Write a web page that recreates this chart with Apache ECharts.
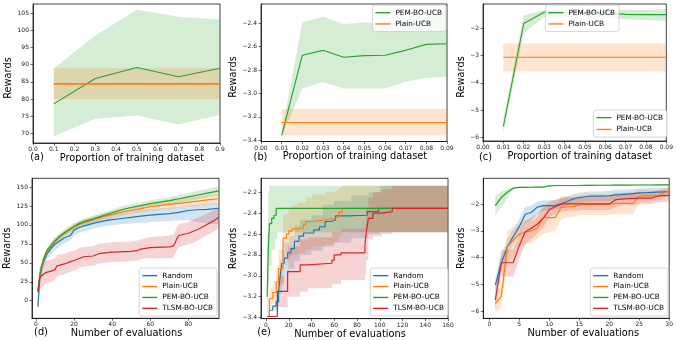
<!DOCTYPE html>
<html><head><meta charset="utf-8">
<script src="https://cdn.jsdelivr.net/npm/echarts@6/dist/echarts.min.js"></script>
<style>html,body{margin:0;padding:0;background:#fff}#c{width:676px;height:340px}</style>
</head><body><div id="c"></div>
<script>
// ---------------- DATA ----------------
// Panel (a)
const aX = [0.1, 0.3, 0.5, 0.7, 0.9];
const aPemMean = [78.6, 86.0, 89.2, 86.5, 89.0];
const aPemLow = [69.2, 74.3, 75.2, 72.6, 75.4];
const aPemHigh = [89.0, 98.5, 106.0, 104.0, 103.2];
const aPlainMean = [84.4, 84.4, 84.4, 84.4, 84.4];
const aPlainLow = [80.0, 80.0, 80.0, 80.0, 80.0];
const aPlainHigh = [89.0, 89.0, 89.0, 89.0, 89.0];
const aXTicks = [0, 0.1, 0.2, 0.3, 0.4, 0.5, 0.6, 0.7, 0.8, 0.9];
const aYTicks = [70, 75, 80, 85, 90, 95, 100, 105];

// Panel (b)
const bX = [0.01, 0.02, 0.03, 0.04, 0.05, 0.06, 0.07, 0.08, 0.09];
const bPemMean = [-3.358, -2.673, -2.631, -2.690, -2.676, -2.673, -2.631, -2.580, -2.575];
const bPemLow = [-3.37, -2.958, -2.901, -2.958, -2.958, -2.958, -2.900, -2.865, -2.856];
const bPemHigh = [-3.33, -2.392, -2.344, -2.406, -2.394, -2.394, -2.380, -2.330, -2.287];
const bPlainMean = [-3.248, -3.248, -3.248, -3.248, -3.248, -3.248, -3.248, -3.248, -3.248];
const bPlainLow = [-3.358, -3.358, -3.358, -3.358, -3.358, -3.358, -3.358, -3.358, -3.358];
const bPlainHigh = [-3.132, -3.132, -3.132, -3.132, -3.132, -3.132, -3.132, -3.132, -3.132];
const bXTicks = [0, 0.01, 0.02, 0.03, 0.04, 0.05, 0.06, 0.07, 0.08, 0.09];
const bYTicks = [-3.4, -3.2, -3.0, -2.8, -2.6, -2.4];

// Panel (c)
const cX = [0.01, 0.02, 0.03, 0.04, 0.05, 0.06, 0.07, 0.08, 0.09];
const cPemMean = [-5.6, -1.83, -1.42, -1.42, -1.42, -1.44, -1.50, -1.51, -1.51];
const cPemLow = [-5.85, -2.19, -1.59, -1.58, -1.58, -1.60, -1.68, -1.71, -1.73];
const cPemHigh = [-5.3, -1.53, -1.34, -1.34, -1.34, -1.36, -1.34, -1.33, -1.32];
const cPlainMean = [-3.07, -3.07, -3.07, -3.07, -3.07, -3.07, -3.07, -3.07, -3.07];
const cPlainLow = [-3.59, -3.59, -3.59, -3.59, -3.59, -3.59, -3.59, -3.59, -3.59];
const cPlainHigh = [-2.56, -2.56, -2.56, -2.56, -2.56, -2.56, -2.56, -2.56, -2.56];
const cXTicks = [0, 0.01, 0.02, 0.03, 0.04, 0.05, 0.06, 0.07, 0.08, 0.09];
const cYTicks = [-6, -5, -4, -3, -2];

// Panel (d)
const dX = [1, 2, 3, 4, 5, 6, 8, 10, 12, 15, 18, 20, 22, 25, 30, 35, 40, 45, 50, 55, 60, 65, 70, 75, 80, 85, 90, 96];
const dRandMean = [-8, 29.5, 42.7, 51.5, 57, 62.5, 69, 74.5, 78, 83, 86, 93, 96, 98.5, 102, 105, 107, 108.5, 110, 111.5, 113, 114, 115, 116.5, 119, 120, 120.5, 122];
const dRandLow = [-14, 20, 34, 44, 50, 55, 61, 67, 71, 76, 79, 86, 89, 91, 95, 98, 100, 101, 102, 103, 104, 104.5, 105, 106, 106, 104, 102, 101];
const dRandHigh = [-2, 38, 50, 58, 63, 69, 76, 82, 85, 90, 93, 100, 103, 106, 109, 112, 114, 116, 118, 120, 121, 122, 123, 124, 126, 127, 128, 129];
const dPlainMean = [12, 33, 45, 53, 60, 65, 72, 78, 83, 89, 94, 98, 100, 103, 107, 111, 114, 117, 119, 121.5, 124, 125.5, 127, 128.5, 130, 131.5, 133, 134.5];
const dPlainLow = [6, 28, 41, 49, 56, 61, 68, 74, 79, 85, 90, 94, 96, 99, 103, 106, 109, 112, 114, 116, 118, 119.5, 121, 122.5, 124, 125, 126.5, 128];
const dPlainHigh = [18, 38, 49, 57, 64, 69, 76, 82, 87, 93, 98, 102, 104, 107, 111, 115, 118, 121, 124, 126.5, 129, 131, 133, 134.5, 136, 138, 139.5, 141];
const dPemMean = [12, 34, 47, 55, 62, 67, 73, 79, 84, 90, 95, 98, 101, 104, 108, 112, 116, 120, 123, 125.5, 128, 130, 132, 134.5, 137, 139.5, 142, 145];
const dPemLow = [6, 29, 43, 51, 58, 63, 69, 75, 80, 86, 91, 94, 97, 100, 104, 108, 112, 115.5, 118.5, 121, 123.5, 125.5, 127.5, 129.5, 132, 134, 136.5, 139];
const dPemHigh = [18, 39, 51, 59, 66, 71, 77, 83, 88, 94, 99, 102, 105, 108, 112, 116, 120, 124.5, 127.5, 130, 132.5, 134.5, 136.5, 139.5, 142, 145, 147.5, 151];
const dTlX = [1, 2, 3, 4, 5, 6, 8, 10, 11, 12, 15, 18, 20, 22, 23, 25, 30, 33, 40, 50, 53, 55, 60, 70, 72, 73, 74, 75, 80, 85, 90, 93, 96];
const dTlMean = [12, 30, 33, 34, 37, 38, 39, 41, 46, 47, 48.5, 51.5, 53, 55, 57, 58, 59, 62, 64, 65, 66, 68, 70, 71, 72, 76, 82, 86, 89, 94, 101, 105, 110];
const dTlLow = [0, 15, 18, 20, 22, 24, 25, 27, 32, 33, 35, 38, 40, 42, 44, 45, 46, 49, 51, 52, 53, 55, 56, 56, 57, 61, 67, 71, 74, 79, 87, 91, 96];
const dTlHigh = [25, 45, 48, 49, 52, 53, 54, 56, 60, 61, 62, 65, 66, 68, 70, 71, 72, 75, 77, 78, 79, 81, 84, 86, 87, 91, 97, 101, 104, 109, 115, 119, 123];
const dXTicks = [0, 20, 40, 60, 80];
const dYTicks = [0, 25, 50, 75, 100, 125, 150];

// Panel (e)  (best-so-far step curves: x where a new value is reached)
const eRandX = [1, 3, 6, 9, 11, 12, 13, 14, 16, 19, 22, 25, 29, 33, 42, 47, 52, 57, 61, 72, 89, 99, 160];
const eRandY = [-3.39, -3.33, -3.29, -3.25, -3.15, -3.05, -2.95, -2.88, -2.83, -2.78, -2.74, -2.67, -2.62, -2.59, -2.56, -2.53, -2.48, -2.465, -2.425, -2.42, -2.385, -2.355, -2.355];
const eRandBandX = [1, 8, 11, 12, 14, 16, 20, 25, 30, 40, 50, 60, 75, 90, 100, 160];
const eRandLow = [-3.39, -3.34, -3.26, -3.17, -3.08, -3.0, -2.93, -2.86, -2.8, -2.76, -2.72, -2.68, -2.64, -2.6, -2.583, -2.583];
const eRandHigh = [-3.39, -3.22, -3.05, -2.85, -2.75, -2.68, -2.62, -2.52, -2.46, -2.42, -2.32, -2.28, -2.23, -2.2, -2.137, -2.137];
const ePlainX = [1, 3, 6, 9, 11, 15, 18, 20, 23, 28, 33, 35, 41, 52, 61, 64, 67, 160];
const ePlainY = [-3.39, -3.22, -3.16, -3.06, -2.93, -2.64, -2.6, -2.57, -2.55, -2.54, -2.51, -2.48, -2.465, -2.449, -2.433, -2.392, -2.355, -2.355];
const ePlainBandX = [1, 3, 6, 9, 11, 15, 18, 20, 23, 28, 35, 41, 52, 61, 64, 67, 160];
const ePlainLow = [-3.39, -3.32, -3.27, -3.2, -3.1, -2.9, -2.86, -2.82, -2.8, -2.78, -2.75, -2.72, -2.7, -2.68, -2.62, -2.583, -2.583];
const ePlainHigh = [-3.39, -3.12, -3.05, -2.9, -2.75, -2.42, -2.4, -2.36, -2.32, -2.3, -2.25, -2.22, -2.2, -2.18, -2.16, -2.137, -2.137];
const ePemX = [1, 2, 3, 5, 7, 9, 160];
const ePemY = [-3.2, -2.75, -2.5, -2.45, -2.42, -2.355, -2.355];
const ePemBandX = [1, 2, 3, 5, 8, 10, 160];
const ePemLow = [-3.35, -3.1, -2.9, -2.75, -2.65, -2.583, -2.583];
const ePemHigh = [-2.6, -2.2, -2.137, -2.137, -2.137, -2.137, -2.137];
const eTlX = [1, 10, 19, 30, 37, 58, 60, 66, 87, 88, 89, 90, 94, 102, 111, 160];
const eTlY = [-3.39, -3.15, -2.96, -2.896, -2.88, -2.85, -2.8, -2.78, -2.7, -2.6, -2.52, -2.45, -2.4, -2.385, -2.355, -2.355];
const eTlBandX = [1, 10, 19, 30, 37, 58, 66, 87, 88, 90, 94, 102, 111, 160];
const eTlLow = [-3.39, -3.3, -3.2, -3.15, -3.12, -3.08, -3.04, -2.98, -2.85, -2.65, -2.62, -2.6, -2.583, -2.583];
const eTlHigh = [-3.39, -3.0, -2.72, -2.65, -2.63, -2.58, -2.55, -2.5, -2.35, -2.25, -2.2, -2.17, -2.137, -2.137];
const eXTicks = [0, 20, 40, 60, 80, 100, 120, 140, 160];
const eYTicks = [-3.4, -3.2, -3.0, -2.8, -2.6, -2.4, -2.2];

// Panel (f)
const fX = [1, 2, 3, 4, 5, 6, 7, 8, 9, 10, 11, 12, 13, 14, 15, 16, 17, 18, 19, 20, 21, 22, 23, 24, 25, 26, 27, 28, 29, 30];
const fRandMean = [-5.03, -4.2, -3.6, -3.21, -2.84, -2.375, -2.31, -2.11, -2.05, -2.05, -2.05, -1.98, -1.9, -1.8, -1.75, -1.72, -1.7, -1.7, -1.7, -1.69, -1.65, -1.64, -1.625, -1.6, -1.575, -1.57, -1.56, -1.55, -1.54, -1.525];
const fRandLow = [-5.3, -4.5, -3.9, -3.5, -3.15, -2.7, -2.6, -2.35, -2.25, -2.22, -2.2, -2.14, -2.07, -1.98, -1.95, -1.92, -1.9, -1.9, -1.9, -1.88, -1.84, -1.82, -1.8, -1.78, -1.75, -1.74, -1.73, -1.72, -1.7, -1.68];
const fRandHigh = [-4.75, -3.9, -3.3, -2.95, -2.55, -2.1, -2.05, -1.9, -1.85, -1.85, -1.85, -1.8, -1.72, -1.62, -1.57, -1.54, -1.52, -1.52, -1.52, -1.5, -1.47, -1.46, -1.45, -1.43, -1.41, -1.4, -1.39, -1.38, -1.38, -1.37];
const fPlainMean = [-5.72, -5.46, -3.59, -3.34, -3.12, -3.05, -3.0, -2.9, -2.5, -2.5, -2.5, -2.11, -2.1, -2.08, -2.03, -2.0, -2.0, -2.0, -2.0, -2.0, -1.97, -1.97, -1.97, -1.97, -1.7, -1.69, -1.69, -1.69, -1.6, -1.49];
const fPlainLow = [-6.05, -5.85, -4.2, -3.95, -3.6, -3.5, -3.45, -3.3, -3.1, -3.05, -3.0, -2.55, -2.5, -2.48, -2.42, -2.4, -2.4, -2.4, -2.4, -2.4, -2.38, -2.38, -2.38, -2.38, -1.95, -1.92, -1.9, -1.88, -1.78, -1.65];
const fPlainHigh = [-5.35, -5.0, -3.0, -2.85, -2.7, -2.65, -2.62, -2.52, -2.0, -2.05, -2.05, -1.7, -1.7, -1.72, -1.65, -1.62, -1.62, -1.62, -1.62, -1.62, -1.58, -1.58, -1.58, -1.58, -1.45, -1.46, -1.48, -1.5, -1.42, -1.33];
const fPemMean = [-2.05, -1.75, -1.55, -1.4, -1.37, -1.37, -1.365, -1.36, -1.36, -1.31, -1.3, -1.3, -1.3, -1.3, -1.3, -1.295, -1.295, -1.29, -1.29, -1.29, -1.285, -1.285, -1.285, -1.28, -1.28, -1.28, -1.28, -1.275, -1.275, -1.275];
const fPemLow = [-2.42, -2.1, -1.78, -1.43, -1.4, -1.4, -1.395, -1.39, -1.39, -1.34, -1.33, -1.33, -1.33, -1.33, -1.33, -1.325, -1.325, -1.32, -1.32, -1.32, -1.315, -1.315, -1.315, -1.31, -1.31, -1.31, -1.31, -1.305, -1.305, -1.305];
const fPemHigh = [-1.68, -1.53, -1.43, -1.36, -1.34, -1.34, -1.335, -1.33, -1.33, -1.28, -1.27, -1.27, -1.27, -1.27, -1.27, -1.265, -1.265, -1.26, -1.26, -1.26, -1.255, -1.255, -1.255, -1.25, -1.25, -1.25, -1.25, -1.245, -1.245, -1.245];
const fTlMean = [-5.58, -4.19, -4.19, -4.19, -3.55, -3.03, -2.9, -2.75, -2.52, -2.21, -2.09, -2.0, -1.99, -1.99, -1.99, -1.99, -1.99, -1.99, -1.99, -1.99, -1.84, -1.81, -1.79, -1.78, -1.775, -1.775, -1.775, -1.7, -1.68, -1.675];
const fTlLow = [-5.95, -4.7, -4.7, -4.72, -4.05, -3.5, -3.3, -3.1, -2.88, -2.5, -2.38, -2.28, -2.25, -2.24, -2.23, -2.22, -2.22, -2.22, -2.22, -2.22, -2.1, -2.06, -2.03, -2.02, -2.0, -2.0, -2.0, -1.94, -1.92, -1.9];
const fTlHigh = [-5.2, -3.7, -3.7, -3.7, -3.1, -2.62, -2.5, -2.35, -2.15, -1.9, -1.82, -1.75, -1.74, -1.74, -1.74, -1.74, -1.74, -1.74, -1.74, -1.74, -1.6, -1.58, -1.56, -1.55, -1.55, -1.55, -1.55, -1.48, -1.46, -1.46];
const fXTicks = [0, 5, 10, 15, 20, 25, 30];
const fYTicks = [-6, -5, -4, -3, -2];

const xTitleA = 'Proportion of training dataset';
const xTitleD = 'Number of evaluations';
const yTitle = 'Rewards';
const tags = ['(a)', '(b)', '(c)', '(d)', '(e)'];

// ---------------- BUILD ----------------
const COL = {blue: '#1f77b4', orange: '#ff7f0e', green: '#2ca02c', red: '#d62728'};
const FONT = 'DejaVu Sans';
function rgba(hex, a) {
  const n = parseInt(hex.slice(1), 16);
  return 'rgba(' + (n >> 16) + ',' + ((n >> 8) & 255) + ',' + (n & 255) + ',' + a + ')';
}
const fmt = (v, d) => (v < 0 ? '\u2212' : '') + Math.abs(v).toFixed(d);

const series = [];
const lines = [];
// shaded band: one polygon per band, built from [x, low, high] rows via the axis scales
function band(idx, xs, lo, hi, color, step) {
  const fill = rgba(color, 0.2);
  series.push({type: 'custom', xAxisIndex: idx, yAxisIndex: idx, silent: true, z: 1, animation: false,
    data: xs.map((x, i) => [x, lo[i], hi[i]]), encode: {x: 0, y: [1, 2]},
    renderItem: function (params, api) {
      if (params.dataIndexInside !== 0) return null;
      const n = params.dataInsideLength;
      const up = [], dn = [];
      for (let k = 0; k < n; k++) {
        const x = api.value(0, k), l = api.value(1, k), h = api.value(2, k);
        up.push(api.coord([x, h])); dn.push(api.coord([x, l]));
        if (step && k < n - 1) {
          const nx = api.value(0, k + 1);
          up.push(api.coord([nx, h])); dn.push(api.coord([nx, l]));
        }
      }
      return {type: 'polygon', shape: {points: up.concat(dn.reverse())}, style: {fill: fill}};
    }});
}
function line(idx, xs, ys, color, name, width, step) {
  lines.push({type: 'line', name: name, xAxisIndex: idx, yAxisIndex: idx,
    data: xs.map((x, i) => [x, ys[i]]), symbol: 'none', step: step || false,
    lineStyle: {color: color, width: width || 1.2}, itemStyle: {color: color}, z: 3, animation: false});
}

// (a)
band(0, aX, aPemLow, aPemHigh, COL.green);
band(0, aX, aPlainLow, aPlainHigh, COL.orange);
line(0, aX, aPemMean, COL.green, 'PEM-BO-UCB', 1.1);
line(0, aX, aPlainMean, COL.orange, 'Plain-UCB', 1.8);
// (b)
band(1, bX, bPemLow, bPemHigh, COL.green);
band(1, bX, bPlainLow, bPlainHigh, COL.orange);
line(1, bX, bPemMean, COL.green, 'PEM-BO-UCB', 1.1);
line(1, bX, bPlainMean, COL.orange, 'Plain-UCB', 1.1);
// (c)
band(2, cX, cPemLow, cPemHigh, COL.green);
band(2, cX, cPlainLow, cPlainHigh, COL.orange);
line(2, cX, cPemMean, COL.green, 'PEM-BO-UCB', 1.1);
line(2, cX, cPlainMean, COL.orange, 'Plain-UCB', 1.1);
// (d)
band(3, dX, dRandLow, dRandHigh, COL.blue);
band(3, dX, dPlainLow, dPlainHigh, COL.orange);
band(3, dX, dPemLow, dPemHigh, COL.green);
band(3, dTlX, dTlLow, dTlHigh, COL.red);
line(3, dX, dRandMean, COL.blue, 'Random');
line(3, dX, dPlainMean, COL.orange, 'Plain-UCB');
line(3, dX, dPemMean, COL.green, 'PEM-BO-UCB');
line(3, dTlX, dTlMean, COL.red, 'TLSM-BO-UCB');
// (e)
band(4, eRandBandX, eRandLow, eRandHigh, COL.blue, 'end');
band(4, ePlainBandX, ePlainLow, ePlainHigh, COL.orange, 'end');
band(4, ePemBandX, ePemLow, ePemHigh, COL.green, 'end');
band(4, eTlBandX, eTlLow, eTlHigh, COL.red, 'end');
line(4, eRandX, eRandY, COL.blue, 'Random', 1.2, 'end');
line(4, ePlainX, ePlainY, COL.orange, 'Plain-UCB', 1.2, 'end');
line(4, ePemX, ePemY, COL.green, 'PEM-BO-UCB', 1.2, 'end');
line(4, eTlX, eTlY, COL.red, 'TLSM-BO-UCB', 1.2, 'end');
// (f)
band(5, fX, fRandLow, fRandHigh, COL.blue);
band(5, fX, fPlainLow, fPlainHigh, COL.orange);
band(5, fX, fPemLow, fPemHigh, COL.green);
band(5, fX, fTlLow, fTlHigh, COL.red);
line(5, fX, fRandMean, COL.blue, 'Random');
line(5, fX, fPlainMean, COL.orange, 'Plain-UCB');
line(5, fX, fPemMean, COL.green, 'PEM-BO-UCB');
line(5, fX, fTlMean, COL.red, 'TLSM-BO-UCB');

const panels = [
  {g: [33, 4, 187, 139], xr: [0, 0.9], xt: aXTicks, xd: 1, yr: [67.2, 107.7], yt: aYTicks, yd: 0, xn: xTitleA, xs: 5.4, ys: 4.5, yg: 12, tag: [37, 157]},
  {g: [261, 4, 186, 137.5], xr: [0, 0.09], xt: bXTicks, xd: 2, yr: [-3.41, -2.235], yt: bYTicks, yd: 1, xn: xTitleA, xs: 1, ys: 4.3, yg: 18, tag: [260.5, 157]},
  {g: [483, 4, 185, 137], xr: [0, 0.09], xt: cXTicks, xd: 2, yr: [-6.13, -1.12], yt: cYTicks, yd: 0, xn: xTitleA, xs: 5, ys: 4.5, yg: 13, tag: [485.5, 157]},
  {g: [32, 178.3, 187, 140], xr: [-2.1, 96.1], xt: dXTicks, xd: 0, yr: [-23.2, 161.5], yt: dYTicks, yd: 0, xn: xTitleD, xs: 1, ys: 0, yg: 12, tag: [41, 332]},
  {g: [261, 178.3, 187, 140.7], xr: [-4.4, 160], xt: eXTicks, xd: 0, yr: [-3.41, -2.066], yt: eYTicks, yd: 1, xn: xTitleD, xs: -4.5, ys: 0, yg: 17.5, tag: [264, 332]},
  {g: [483.3, 178.3, 188.4, 140], xr: [-1, 30], xt: fXTicks, xd: 0, yr: [-6.27, -1.03], yt: fYTicks, yd: 0, xn: xTitleD, xs: 7, ys: 0, yg: 13.5, tag: null}
];

const grids = [], xAxes = [], yAxes = [], graphics = [];
panels.forEach((p, i) => {
  grids.push({left: p.g[0], top: p.g[1], width: p.g[2], height: p.g[3], show: true,
    borderColor: '#111', borderWidth: 0.8, backgroundColor: 'transparent'});
  const axisCommon = {
    axisLine: {show: true, onZero: false, lineStyle: {color: '#111', width: 0.8}},
    splitLine: {show: false}
  };
  xAxes.push(Object.assign({type: 'value', gridIndex: i, min: p.xr[0], max: p.xr[1],
    name: p.xn, nameLocation: 'middle', nameGap: 9,
    nameTextStyle: {fontFamily: FONT, fontSize: 9.8, color: '#000',
      padding: p.xs >= 0 ? [0, 0, 0, 2 * p.xs] : [0, -2 * p.xs, 0, 0]},
    axisTick: {show: true, length: 2.5, customValues: p.xt, lineStyle: {color: '#111', width: 0.6}},
    axisLabel: {customValues: p.xt, fontFamily: FONT, fontSize: 6, color: '#222', margin: 3.5,
      formatter: (v) => fmt(v, p.xd)}
  }, axisCommon));
  yAxes.push(Object.assign({type: 'value', gridIndex: i, min: p.yr[0], max: p.yr[1],
    name: yTitle, nameLocation: 'middle', nameRotate: 90, nameGap: p.yg,
    nameTextStyle: {fontFamily: FONT, fontSize: 9.8, color: '#000', padding: [0, 2 * p.ys, 0, 0]},
    axisTick: {show: true, length: 2.5, customValues: p.yt, lineStyle: {color: '#111', width: 0.6}},
    axisLabel: {customValues: p.yt, fontFamily: FONT, fontSize: 6, color: '#222', margin: 4,
      formatter: (v) => fmt(v, p.yd)}
  }, axisCommon));
  if (p.tag) {
    graphics.push({type: 'text', x: p.tag[0], y: p.tag[1], style: {text: tags[i], font: '9.8px "' + FONT + '"',
      fill: '#000', align: 'center', verticalAlign: 'middle'}, silent: true});
  }
});

function legend(names, pos, gap) {
  return Object.assign({orient: 'vertical', data: names, icon: 'rect', itemWidth: 15, itemHeight: 1.4,
    itemGap: gap, padding: [3.5, 4, 3.5, 3], backgroundColor: 'rgba(255,255,255,0.8)',
    borderColor: '#cccccc', borderWidth: 0.8, borderRadius: 2.5, selectedMode: false,
    textStyle: {fontFamily: FONT, fontSize: 7.3, color: '#000', lineHeight: 8.3}}, pos);
}
const two = ['PEM-BO-UCB', 'Plain-UCB'];
const four = ['Random', 'Plain-UCB', 'PEM-BO-UCB', 'TLSM-BO-UCB'];
const legends = [
  legend(two, {right: 57, top: 5}, 3),
  legend(two, {right: 230, top: 5}, 3),
  legend(two, {right: 9, top: 110}, 3.5),
  legend(four, {right: 459, top: 268}, 2.6),
  legend(four, {right: 228, top: 268}, 2.6),
  legend(four, {right: 8, top: 268}, 2.6)
];

const chart = echarts.init(document.getElementById('c'), null, {renderer: 'canvas'});
chart.setOption({
  animation: false,
  backgroundColor: '#ffffff',
  textStyle: {fontFamily: FONT},
  grid: grids, xAxis: xAxes, yAxis: yAxes,
  legend: legends,
  graphic: graphics,
  series: series.concat(lines)
});
</script>
</body></html>
